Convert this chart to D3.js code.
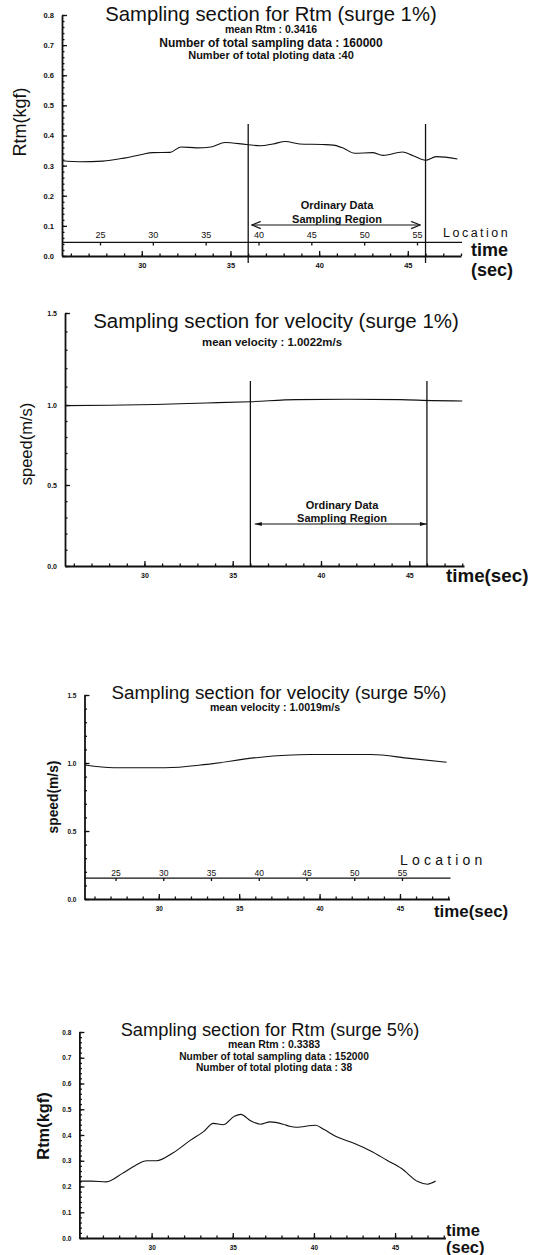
<!DOCTYPE html>
<html>
<head>
<meta charset="utf-8">
<script src="https://cdn.jsdelivr.net/npm/d3@7"></script>
<style>
  body { margin: 0; background: #fff; }
  svg text { font-family: "Liberation Sans", Arial, sans-serif; fill: #111; }
</style>
</head>
<body>
<svg width="539" height="1255"></svg>
<script>
// ---- data ----
// Rtm, surge 1%
const rtm1Time = [25.5, 26.5, 27.8, 29, 30, 30.6, 31.6, 32.2, 33.1, 33.9, 34.7, 35.9, 36.7, 37.4, 38.1, 38.9, 40.2, 40.8, 41.4, 42, 43, 43.6, 44.7, 45.3, 46, 46.6, 47.8];
const rtm1Values = [0.316, 0.313, 0.315, 0.325, 0.337, 0.343, 0.344, 0.362, 0.359, 0.362, 0.377, 0.37, 0.366, 0.372, 0.38, 0.372, 0.37, 0.368, 0.357, 0.341, 0.343, 0.334, 0.345, 0.333, 0.318, 0.33, 0.322];
// velocity, surge 1%
const vel1Time = [25.5, 28, 30.6, 33.5, 36, 38.6, 41.5, 44.5, 46.3, 48];
const vel1Values = [0.996, 0.998, 1.003, 1.011, 1.018, 1.029, 1.031, 1.029, 1.024, 1.022];
// velocity, surge 5%
const vel5Time = [25.4, 27.2, 30.4, 33, 36.2, 39.4, 43.2, 45.6, 47.9];
const vel5Values = [0.985, 0.965, 0.965, 0.99, 1.041, 1.062, 1.062, 1.034, 1.005];
// Rtm, surge 5%
const rtm5Time = [25.55, 26.3, 27.2, 28.2, 29, 29.7, 30.3, 31.3, 32.4, 33.2, 33.8, 34.4, 35.1, 35.5, 36.1, 36.7, 37.3, 38.1, 38.5, 38.9, 40.1, 40.6, 41.4, 42.5, 43.5, 44.5, 45.4, 46.4, 47, 47.5];
const rtm5Values = [0.221, 0.221, 0.218, 0.251, 0.282, 0.3, 0.3, 0.33, 0.38, 0.413, 0.445, 0.44, 0.473, 0.48, 0.455, 0.442, 0.451, 0.442, 0.434, 0.43, 0.438, 0.422, 0.393, 0.367, 0.338, 0.302, 0.27, 0.219, 0.209, 0.221];

const timeTicks = [30, 35, 40, 45];
const rtmTicks = [0, 0.1, 0.2, 0.3, 0.4, 0.5, 0.6, 0.7, 0.8];
const velTicks = [0, 0.5, 1.0, 1.5];
const locationTicks = [25, 30, 35, 40, 45, 50, 55];
const samplingRegion = [36, 46];

const svg = d3.select("svg");

svg.append("defs").call((defs) => {
  defs.append("marker")
    .attr("id", "open-head")
    .attr("viewBox", "0 -5 10 10")
    .attr("refX", 10).attr("refY", 0)
    .attr("markerUnits", "userSpaceOnUse")
    .attr("markerWidth", 11).attr("markerHeight", 9)
    .attr("orient", "auto-start-reverse")
    .append("path")
    .attr("d", "M0,-4L10,0L0,4")
    .attr("fill", "none").attr("stroke", "#111").attr("stroke-width", 1.3);
  defs.append("marker")
    .attr("id", "solid-head")
    .attr("viewBox", "0 -5 10 10")
    .attr("refX", 10).attr("refY", 0)
    .attr("markerUnits", "userSpaceOnUse")
    .attr("markerWidth", 12).attr("markerHeight", 7)
    .attr("orient", "auto-start-reverse")
    .append("path")
    .attr("d", "M0,-3L10,0L0,3Z")
    .attr("fill", "#111");
});

function styleAxis(sel, size) {
  sel.attr("font-family", null).attr("font-size", null);
  sel.selectAll("path, line").attr("stroke", "#111").attr("stroke-width", 1.3);
  sel.selectAll("text").attr("font-size", size).attr("font-weight", "bold").attr("fill", "#111");
}

function drawPanel(p) {
  const g = svg.append("g");
  const x = d3.scaleLinear().domain(p.tDomain).range([p.left, p.right]);
  const y = d3.scaleLinear().domain(p.yDomain).range(p.yRange);
  const bottom = p.yRange[0];
  const yMin = p.yDomain[0], yMax = p.yDomain[p.yDomain.length - 1];

  // minor ticks
  g.append("g")
    .attr("transform", `translate(0,${bottom})`)
    .call(d3.axisBottom(x).tickValues(d3.range(26, 48.01, 1)).tickSize(-2.5).tickFormat(""))
    .call((s) => { s.select(".domain").remove(); styleAxis(s, 0); });
  g.append("g")
    .attr("transform", `translate(${p.left},0)`)
    .call(d3.axisLeft(y).tickValues(d3.range(yMin, yMax + 1e-6, p.yMinor)).tickSize(-2.5).tickFormat(""))
    .call((s) => { s.select(".domain").remove(); styleAxis(s, 0); });

  // main axes
  g.append("g")
    .attr("transform", `translate(0,${bottom})`)
    .call(d3.axisBottom(x).tickValues(timeTicks).tickSize(-5).tickSizeOuter(0).tickPadding(7).tickFormat(d3.format("d")))
    .call((s) => styleAxis(s, p.tickSize));
  g.append("g")
    .attr("transform", `translate(${p.left},0)`)
    .call(d3.axisLeft(y).tickValues(p.yTicks).tickSize(-5).tickSizeOuter(0).tickPadding(8).tickFormat(d3.format(".1f")))
    .call((s) => styleAxis(s, p.tickSize));
  g.selectAll(".domain").attr("stroke-width", 1.8);

  // data line
  g.append("path")
    .datum(d3.zip(p.time, p.values))
    .attr("fill", "none")
    .attr("stroke", "#111")
    .attr("stroke-width", 1.1)
    .attr("d", d3.line().x((d) => x(d[0])).y((d) => y(d[1])).curve(d3.curveMonotoneX));

  // sampling region
  if (p.region) {
    const r = p.region;
    g.append("g").selectAll("line")
      .data(samplingRegion)
      .join("line")
      .attr("x1", (d) => x(d)).attr("x2", (d) => x(d))
      .attr("y1", r.top).attr("y2", r.bottom)
      .attr("stroke", "#111").attr("stroke-width", 1.3);
    g.append("line")
      .attr("x1", x(r.from)).attr("x2", x(r.to))
      .attr("y1", r.arrowY).attr("y2", r.arrowY)
      .attr("stroke", "#111").attr("stroke-width", 1.1)
      .attr("marker-start", `url(#${r.head})`)
      .attr("marker-end", `url(#${r.head})`);
    g.append("g").selectAll("text")
      .data(["Ordinary Data", "Sampling Region"])
      .join("text")
      .attr("x", r.textX)
      .attr("y", (d, i) => r.textY[i])
      .attr("text-anchor", "middle")
      .attr("font-size", r.textSize)
      .attr("font-weight", "bold")
      .text((d) => d);
  }

  // location axis
  if (p.location) {
    const l = p.location;
    const ly = y(l.value);
    const loc = d3.scaleLinear().domain([25, 55]).range(l.range);
    g.append("line")
      .attr("x1", p.left).attr("x2", l.end)
      .attr("y1", ly).attr("y2", ly)
      .attr("stroke", "#111").attr("stroke-width", 1.2);
    g.append("g")
      .attr("transform", `translate(0,${ly})`)
      .call(d3.axisTop(loc).tickValues(locationTicks).tickSize(-3).tickPadding(l.pad).tickFormat(d3.format("d")))
      .call((s) => {
        s.select(".domain").remove();
        styleAxis(s, l.tickSize);
        s.selectAll("text").attr("font-weight", "normal").attr("fill", "#444");
      });
    g.append("text")
      .attr("x", l.labelX).attr("y", l.labelY)
      .attr("font-size", l.labelSize)
      .attr("letter-spacing", l.spacing)
      .text("Location");
  }

  // titles
  g.append("text")
    .attr("x", p.title.x).attr("y", p.title.y)
    .attr("text-anchor", "middle")
    .attr("font-size", p.title.size)
    .text(p.title.text);
  g.append("g").selectAll("text")
    .data(p.subs)
    .join("text")
    .attr("x", p.subX).attr("y", (d) => d.y)
    .attr("text-anchor", "middle")
    .attr("font-size", (d) => d.size)
    .attr("font-weight", "bold")
    .text((d) => d.text);

  // axis titles
  g.append("text")
    .attr("transform", `translate(${p.yLabel.x},${p.yLabel.y}) rotate(-90)`)
    .attr("text-anchor", "middle")
    .attr("font-size", p.yLabel.size)
    .attr("font-weight", p.yLabel.weight)
    .text(p.yLabel.text);
  g.append("g").selectAll("text")
    .data(p.xLabel.lines)
    .join("text")
    .attr("x", p.xLabel.x)
    .attr("y", (d, i) => p.xLabel.y[i])
    .attr("font-size", p.xLabel.size)
    .attr("font-weight", "bold")
    .text((d) => d);
}

// panel 1: Rtm surge 1%
drawPanel({
  time: rtm1Time, values: rtm1Values,
  left: 62, right: 461, tDomain: [25.5, 48],
  yDomain: [0, 0.8], yRange: [256, 15], yTicks: rtmTicks, yMinor: 0.02, tickSize: 7.5,
  title: { text: "Sampling section for Rtm (surge 1%)", x: 271, y: 21, size: 20.3 },
  subX: 271,
  subs: [
    { text: "mean Rtm : 0.3416", y: 33, size: 10.5 },
    { text: "Number of total sampling data : 160000", y: 46.5, size: 12 },
    { text: "Number of total ploting data :40", y: 59, size: 11 },
  ],
  region: { top: 124, bottom: 263, arrowY: 225, from: 36.2, to: 45.7, head: "open-head", textX: 337, textY: [209, 222.5], textSize: 11 },
  location: { value: 0.045, end: 462, range: [100, 417], tickSize: 9, pad: 4, labelX: 443, labelY: 236.5, labelSize: 12.5, spacing: 2.5 },
  yLabel: { text: "Rtm(kgf)", x: 26, y: 122, size: 18, weight: "normal" },
  xLabel: { lines: ["time", "(sec)"], x: 471, y: [256, 276], size: 18 },
});

// panel 2: velocity surge 1%
drawPanel({
  time: vel1Time, values: vel1Values,
  left: 65, right: 464, tDomain: [25.5, 48.1],
  yDomain: [0, 0.5, 1.0, 1.5], yRange: [566, 485, 405, 313], yTicks: velTicks, yMinor: 0.1, tickSize: 7,
  title: { text: "Sampling section for velocity (surge 1%)", x: 276, y: 328, size: 20.5 },
  subX: 272,
  subs: [{ text: "mean velocity : 1.0022m/s", y: 345.5, size: 11.4 }],
  region: { top: 381, bottom: 567, arrowY: 524, from: 36.25, to: 46, head: "solid-head", textX: 342, textY: [509, 522], textSize: 11 },
  yLabel: { text: "speed(m/s)", x: 32, y: 444, size: 16.5, weight: "normal" },
  xLabel: { lines: ["time(sec)"], x: 446, y: [582], size: 18.8 },
});

// panel 3: velocity surge 5%
drawPanel({
  time: vel5Time, values: vel5Values,
  left: 84.5, right: 449.5, tDomain: [25.38, 48.08],
  yDomain: [0, 1.5], yRange: [899, 695], yTicks: velTicks, yMinor: 0.1, tickSize: 6.5,
  title: { text: "Sampling section for velocity (surge 5%)", x: 279, y: 698.5, size: 18.8 },
  subX: 275,
  subs: [{ text: "mean velocity : 1.0019m/s", y: 711, size: 10.6 }],
  location: { value: 0.154, end: 450.5, range: [115.5, 402], tickSize: 8.5, pad: 2, labelX: 400, labelY: 865, labelSize: 14, spacing: 4.2 },
  yLabel: { text: "speed(m/s)", x: 58, y: 797, size: 13.8, weight: "bold" },
  xLabel: { lines: ["time(sec)"], x: 434, y: [917], size: 16.9 },
});

// panel 4: Rtm surge 5%
drawPanel({
  time: rtm5Time, values: rtm5Values,
  left: 79.4, right: 445.4, tDomain: [25.55, 48.1],
  yDomain: [0, 0.8], yRange: [1238, 1032], yTicks: rtmTicks, yMinor: 0.02, tickSize: 6.5,
  title: { text: "Sampling section for Rtm (surge 5%)", x: 270, y: 1035.5, size: 18.3 },
  subX: 274,
  subs: [
    { text: "mean Rtm : 0.3383", y: 1047.5, size: 10.5 },
    { text: "Number of total sampling data : 152000", y: 1059.5, size: 10.2 },
    { text: "Number of total ploting data : 38", y: 1071, size: 10.2 },
  ],
  yLabel: { text: "Rtm(kgf)", x: 49, y: 1126, size: 16.4, weight: "bold" },
  xLabel: { lines: ["time", "(sec)"], x: 446, y: [1236, 1252.5], size: 16.5 },
});
</script>
</body>
</html>
